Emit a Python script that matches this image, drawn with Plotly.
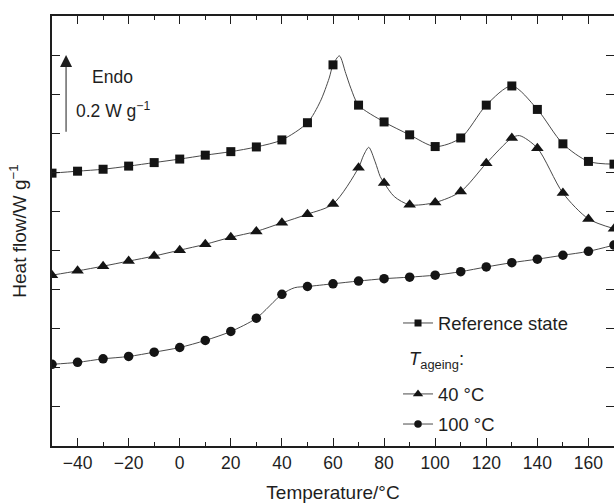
import plotly.graph_objects as go

# Temperatures of the plotted markers (°C)
temperature = list(range(-50, 171, 10))

# Heat flow read at the markers (W g^-1, arbitrary offset)
ref_state = [0.698, 0.703, 0.708, 0.716, 0.725, 0.734, 0.744, 0.753, 0.765, 0.783,
             0.827, 0.975, 0.872, 0.829, 0.796, 0.766, 0.788, 0.872, 0.921, 0.861,
             0.773, 0.728, 0.721]
ageing_40 = [0.437, 0.448, 0.460, 0.473, 0.486, 0.501, 0.516, 0.534, 0.549, 0.571,
             0.593, 0.619, 0.712, 0.673, 0.617, 0.623, 0.651, 0.723, 0.788, 0.762,
             0.647, 0.581, 0.556]
ageing_100 = [0.209, 0.214, 0.223, 0.229, 0.240, 0.252, 0.270, 0.293, 0.327, 0.388,
              0.408, 0.415, 0.422, 0.428, 0.432, 0.437, 0.446, 0.458, 0.469, 0.478,
              0.488, 0.498, 0.514]

# Extra points of the continuous curves read between markers (peaks, knees)
ref_curve_T = [55, 58.5, 62.5, 65, 67]
ref_curve_v = [0.881, 0.941, 0.998, 0.953, 0.915]
ag40_curve_T = [72, 74, 76.5, 78.5, 84, 133]
ag40_curve_v = [0.744, 0.764, 0.727, 0.689, 0.638, 0.794]
ag100_curve_T = [45]
ag100_curve_v = [0.405]

x_ticks = list(range(-40, 161, 20))
x_tick_labels = ["\u221240", "\u221220", "0", "20", "40", "60", "80", "100", "120", "140", "160"]

FONT = "Liberation Sans, Arial, Helvetica, sans-serif"
TXT = "#1e1e1e"
LINE_COL = "#4a4a4a"
MARK_COL = "#141414"


def merged(t_mark, v_mark, t_extra, v_extra):
    pts = sorted(list(zip(t_mark, v_mark)) + list(zip(t_extra, v_extra)))
    return [p[0] for p in pts], [p[1] for p in pts]


series = [
    ("Reference state", ref_state, ref_curve_T, ref_curve_v, "square", 9, "legend"),
    ("40 \u00b0C", ageing_40, ag40_curve_T, ag40_curve_v, "triangle-up", 11, "legend2"),
    ("100 \u00b0C", ageing_100, ag100_curve_T, ag100_curve_v, "circle", 9.5, "legend3"),
]

fig = go.Figure()
for name, vals, ct, cv, sym, size, lg in series:
    xs, ys = merged(temperature, vals, ct, cv)
    fig.add_trace(go.Scatter(x=xs, y=ys, mode="lines",
                             line=dict(color=LINE_COL, width=1, shape="spline", smoothing=0.8),
                             showlegend=False, hoverinfo="skip"))
    fig.add_trace(go.Scatter(x=temperature, y=vals, mode="markers",
                             marker=dict(symbol=sym, size=size, color=MARK_COL),
                             showlegend=False))

# legend entries (line + marker), one legend box per row
for name, vals, ct, cv, sym, size, lg in series:
    fig.add_trace(go.Scatter(x=[None], y=[None], mode="lines+markers", name=name, legend=lg,
                             line=dict(color=LINE_COL, width=1),
                             marker=dict(symbol=sym, size=size - 2, color=MARK_COL)))

# Endo scale arrow (0.2 W g^-1)
fig.add_annotation(x=-44.5, y=1.0, ax=-44.5, ay=0.8, xref="x", yref="y", axref="x", ayref="y",
                   text="", showarrow=True, arrowhead=2, arrowsize=2.4, arrowwidth=1, arrowcolor=TXT)
fig.add_annotation(x=-35.3, y=0.945, xref="x", yref="y", text="Endo", showarrow=False,
                   xanchor="left", yanchor="middle", font=dict(size=17.5, family=FONT, color=TXT))
fig.add_annotation(x=-41.5, y=0.86, xref="x", yref="y", text="0.2 W g<sup>\u22121</sup>", showarrow=False,
                   xanchor="left", yanchor="middle", font=dict(size=17.5, family=FONT, color=TXT))
# legend sub-heading
fig.add_annotation(x=0.632, y=0.200, xref="paper", yref="paper", text="<i>T</i><sub>ageing</sub>:",
                   showarrow=False, xanchor="left", yanchor="middle",
                   font=dict(size=18.4, family=FONT, color=TXT))

leg_common = dict(xanchor="left", yanchor="middle", bgcolor="rgba(0,0,0,0)",
                  font=dict(size=18.4, family=FONT, color=TXT), itemclick=False, itemdoubleclick=False)

fig.update_layout(
    width=614, height=503,
    margin=dict(l=52, r=0, t=16, b=57, autoexpand=False),
    paper_bgcolor="white", plot_bgcolor="white",
    font=dict(family=FONT, color=TXT, size=17),
    showlegend=True,
    legend=dict(x=0.6157, y=0.286, **leg_common),
    legend2=dict(x=0.6157, y=0.121, **leg_common),
    legend3=dict(x=0.6157, y=0.051, **leg_common),
    xaxis=dict(range=[-50, 170], tickvals=x_ticks, ticktext=x_tick_labels, ticks="inside", ticklen=8,
               tickwidth=1.3, tickcolor=TXT, showline=True, linecolor=TXT, linewidth=1.5,
               mirror="ticks", showgrid=False, zeroline=False, automargin=False,
               minor=dict(dtick=10, tick0=0, ticks="inside", ticklen=4, tickwidth=1.3, tickcolor=TXT),
               tickfont=dict(size=17.5), title=dict(text="Temperature/\u00b0C", font=dict(size=19), standoff=26)),
    yaxis=dict(range=[0, 1.1], dtick=0.1, tick0=0, ticks="inside", ticklen=8, tickwidth=1.3, tickcolor=TXT,
               showticklabels=False, showline=True, linecolor=TXT, linewidth=1.5, mirror="ticks",
               showgrid=False, zeroline=False, automargin=False,
               title=dict(text="Heat flow/W g<sup>\u22121</sup>", font=dict(size=19), standoff=19)),
)

fig.write_html("out.html", config={"displayModeBar": False},
               post_script="document.body.style.margin='0px';")
